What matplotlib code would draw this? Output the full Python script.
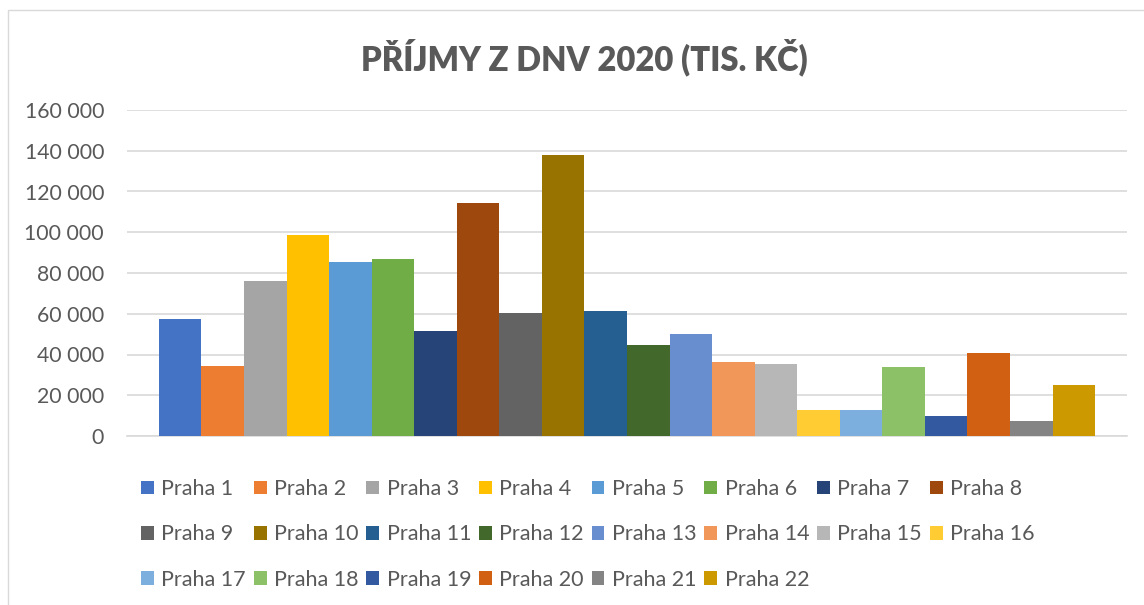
import matplotlib
matplotlib.use("Agg")
import matplotlib.pyplot as plt
from matplotlib.patches import Patch, Rectangle
from matplotlib.ticker import FuncFormatter

districts = ["Praha %d" % i for i in range(1, 23)]
values = [57300, 34200, 76000, 98600, 85300, 86800, 51400, 114300, 60300, 137900,
          61300, 44600, 50000, 36200, 35200, 12600, 12600, 33800, 9700, 40600, 7200, 24900]
colors = ["#4472C4", "#ED7D31", "#A5A5A5", "#FFC000", "#5B9BD5", "#70AD47", "#264478",
          "#9E480E", "#636363", "#997300", "#255E91", "#43682B", "#698ED0", "#F1975A",
          "#B7B7B7", "#FFCD33", "#7CAFDD", "#8CC168", "#335AA1", "#D26012", "#848484",
          "#CC9A00"]
yticks = [0, 20000, 40000, 60000, 80000, 100000, 120000, 140000, 160000]
title = "PŘÍJMY Z DNV 2020 (TIS. KČ)"

W, H = 1144, 605
plt.rcParams['font.family'] = ['Lato', 'DejaVu Sans']
txt_color = "#595959"
grid_color = "#D9D9D9"

fig = plt.figure(figsize=(W / 100, H / 100), dpi=100)
# chart area border
fig.patches.append(Rectangle((8 / W, -0.05), 1.2, 1 - 10 / H + 0.05, transform=fig.transFigure,
                             fill=False, edgecolor=grid_color, linewidth=1.0))

ax = fig.add_axes([127 / W, 1 - 436 / H, 1000 / W, 326 / H])
xs = list(range(len(values)))
ax.bar(xs, values, width=1.0, color=colors, zorder=3)
gap = 0.75
ax.set_xlim(-0.5 - gap, len(values) - 0.5 + gap)
ax.set_ylim(0, 160000)
ax.set_yticks(yticks)
ax.yaxis.set_major_formatter(FuncFormatter(lambda v, p: f"{int(v):,}".replace(",", " ")))
ax.set_xticks([])
ax.tick_params(axis='y', length=0, pad=16.5, labelsize=15.3, labelcolor=txt_color)
ax.grid(axis='y', color=grid_color, linewidth=1.2, zorder=0)
for s in ['top', 'right', 'left']:
    ax.spines[s].set_visible(False)
ax.spines['bottom'].set_color(grid_color)
ax.spines['bottom'].set_linewidth(1.2)

fig.text(584 / W, 1 - 57 / H, title, ha='center', va='center', fontsize=23.6,
         fontweight='heavy', color=txt_color)

# legend, row-major order in 8 columns
ncol, nrow = 8, 3
order = []
for c in range(ncol):
    for r in range(nrow):
        i = r * ncol + c
        if i < len(districts):
            order.append(i)
handles = [Patch(facecolor=colors[i], edgecolor='none') for i in order]
labels = [districts[i] for i in order]
fs = 15.5
fspx = fs * 100 / 72


def make_legend(cs):
    return fig.legend(handles, labels, ncol=ncol, loc='upper left',
                      bbox_to_anchor=(141 / W, 1 - 479 / H), frameon=False,
                      fontsize=fs, labelcolor=txt_color, handlelength=0.6,
                      handleheight=0.6, handletextpad=0.35, columnspacing=cs,
                      labelspacing=1.18, borderpad=0, borderaxespad=0)


leg = make_legend(0.5)
fig.canvas.draw()
r = fig.canvas.get_renderer()
maxw = max(t.get_window_extent(r).width for t in leg.get_texts())
cs = (112.7 - 0.6 * fspx - 0.35 * fspx - maxw) / fspx
leg.remove()
leg = make_legend(cs)

fig.savefig("out.png", dpi=100)
